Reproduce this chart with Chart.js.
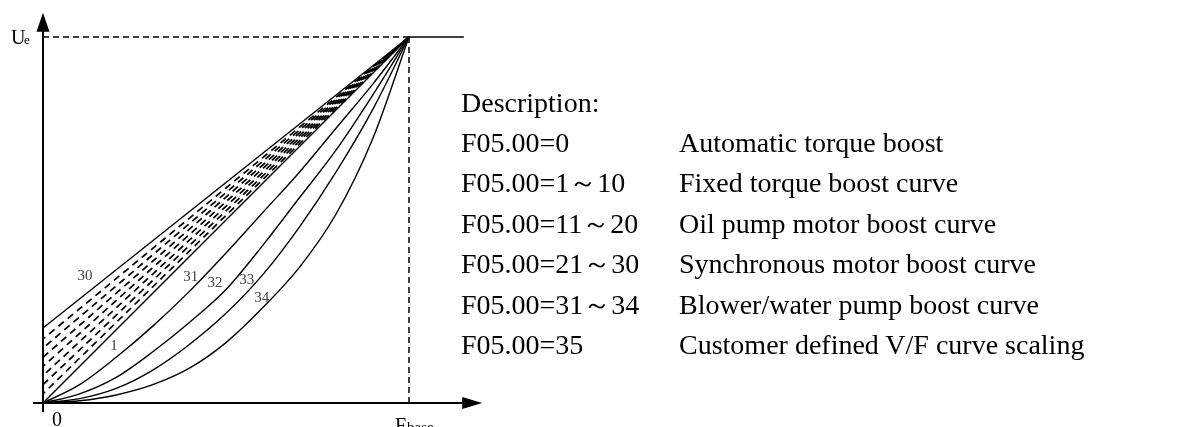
<!DOCTYPE html>
<html>
<head>
<meta charset="utf-8">
<script src="https://cdn.jsdelivr.net/npm/chart.js@4"></script>
<style>
  body { margin: 0; background: #fff; }
  #wrap { position: relative; width: 1178px; height: 427px; overflow: hidden; }
  #vf { position: absolute; left: 0; top: 0; }
  .row { position: absolute; font-family: 'Liberation Serif', 'Times New Roman', serif; font-size: 28px; line-height: 28px; color: #000; white-space: nowrap; }
</style>
</head>
<body>
<div id="wrap">
  <canvas id="vf" width="1178" height="427"></canvas>
  <div id="desc"></div>
</div>
<script>
// x in % of F_base, y in % of U_e
const xPct = [0, 10, 20, 30, 40, 50, 60, 70, 80, 90, 100];
const curve31 = [0, 5, 12.5, 21, 30.5, 41, 52, 63, 75, 87, 100];
const curve32 = [0, 2.5, 7, 14, 22, 31, 43, 56, 69, 84, 100];
const curve33 = [0, 1.2, 4, 9, 16, 24.5, 35, 48, 63, 80, 100];
const curve34 = [0, 0.6, 2.2, 5, 9.5, 16.5, 26, 37, 51.5, 72, 100];

// straight boost lines: start value at 0 Hz, all meet at (100,100)
const boostStart = [20.5, 17.5, 15, 12.5, 10, 7.5, 5, 2.5, 0];

const curveLabels = ['30', '1', '31', '32', '33', '34'];
const labelX = [11.5, 19.4, 40.4, 47, 55.7, 59.8];
const labelY = [34.7, 15.6, 34.4, 32.8, 33.6, 28.7];

const descCodes = ['F05.00=0', 'F05.00=1～10', 'F05.00=11～20', 'F05.00=21～30', 'F05.00=31～34', 'F05.00=35'];
const descTexts = ['Automatic torque boost', 'Fixed torque boost curve', 'Oil pump motor boost curve',
  'Synchronous motor boost curve', 'Blower/water pump boost curve', 'Customer defined V/F curve scaling'];

const toPts = ys => xPct.map((x, i) => ({ x: x, y: ys[i] }));

const datasets = [];
boostStart.forEach((b, i) => {
  const solid = (i === 0 || i === boostStart.length - 1);
  datasets.push({
    data: [{ x: 0, y: b }, { x: 100, y: 100 }],
    borderColor: '#000',
    borderWidth: solid ? 1.4 : 1.7,
    borderDash: solid ? [] : [7, 5],
    borderDashOffset: i * 4
  });
});
[curve31, curve32, curve33, curve34].forEach(c => {
  datasets.push({ data: toPts(c), borderColor: '#000', borderWidth: 1.4, cubicInterpolationMode: 'monotone' });
});
// U_e / F_base guides and the flat part above base frequency
datasets.push({ data: [{ x: 0, y: 100 }, { x: 100, y: 100 }], borderColor: '#000', borderWidth: 1.5, borderDash: [6, 4] });
datasets.push({ data: [{ x: 100, y: 0 }, { x: 100, y: 100 }], borderColor: '#000', borderWidth: 1.5, borderDash: [6, 4] });
datasets.push({ data: [{ x: 100, y: 100 }, { x: 115, y: 100 }], borderColor: '#000', borderWidth: 1.6 });

const axesPlugin = {
  id: 'axes',
  afterDatasetsDraw(chart) {
    const c = chart.ctx, xs = chart.scales.x, ys = chart.scales.y;
    const x0 = xs.getPixelForValue(0), y0 = ys.getPixelForValue(0);
    const xEnd = xs.getPixelForValue(120), yEnd = ys.getPixelForValue(106.6);
    c.save();
    c.strokeStyle = '#000';
    c.fillStyle = '#000';
    c.lineWidth = 2;
    c.beginPath();
    c.moveTo(xs.getPixelForValue(-2.7), y0);
    c.lineTo(xEnd - 18, y0);
    c.moveTo(x0, ys.getPixelForValue(-2.5));
    c.lineTo(x0, yEnd + 18);
    c.stroke();
    c.beginPath();
    c.moveTo(xEnd, y0);
    c.lineTo(xEnd - 20, y0 - 6);
    c.lineTo(xEnd - 20, y0 + 6);
    c.closePath();
    c.fill();
    c.beginPath();
    c.moveTo(x0, yEnd);
    c.lineTo(x0 - 6.5, yEnd + 19);
    c.lineTo(x0 + 6.5, yEnd + 19);
    c.closePath();
    c.fill();

    // axis labels
    c.textBaseline = 'alphabetic';
    c.font = '20px "Liberation Serif"';
    c.fillText('0', x0 + 9, y0 + 23);
    c.fillText('U', x0 - 32, ys.getPixelForValue(100) + 7);
    c.font = '13px "Liberation Serif"';
    c.fillText('e', x0 - 19, ys.getPixelForValue(100) + 7);
    const fx = xs.getPixelForValue(100);
    c.font = '20px "Liberation Serif"';
    c.fillText('F', fx - 14, y0 + 29);
    c.font = '15px "Liberation Serif"';
    c.fillText('base', fx - 2, y0 + 29);

    // curve numbers
    c.fillStyle = '#444';
    c.font = '15px "Liberation Serif"';
    c.textAlign = 'center';
    c.textBaseline = 'middle';
    curveLabels.forEach((t, i) => {
      c.fillText(t, xs.getPixelForValue(labelX[i]), ys.getPixelForValue(labelY[i]));
    });
    c.restore();
  }
};

new Chart(document.getElementById('vf').getContext('2d'), {
  type: 'line',
  data: { datasets: datasets },
  options: {
    responsive: false,
    animation: false,
    layout: { padding: { left: 43, right: 769, top: 37, bottom: 24 } },
    elements: { point: { radius: 0 }, line: { tension: 0 } },
    datasets: { line: { clip: false, fill: false } },
    plugins: { legend: { display: false }, tooltip: { enabled: false } },
    scales: {
      x: { type: 'linear', min: 0, max: 100, display: false },
      y: { type: 'linear', min: 0, max: 100, display: false }
    }
  },
  plugins: [axesPlugin]
});

// description text
const desc = document.getElementById('desc');
const rowTop = [88.6, 128.6, 169, 209.5, 250, 290.5, 331];
function addRow(text, left, top) {
  const d = document.createElement('div');
  d.className = 'row';
  d.style.left = left + 'px';
  d.style.top = top + 'px';
  d.textContent = text;
  desc.appendChild(d);
}
addRow('Description:', 461, rowTop[0]);
descCodes.forEach((t, i) => {
  addRow(t, 461, rowTop[i + 1]);
  addRow(descTexts[i], 679, rowTop[i + 1]);
});
</script>
</body>
</html>
